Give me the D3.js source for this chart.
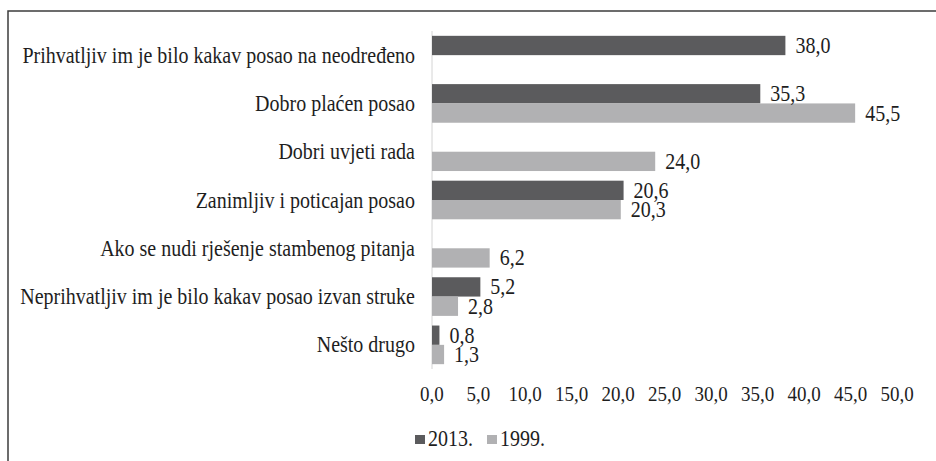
<!DOCTYPE html>
<html>
<head>
<meta charset="utf-8">
<script src="https://cdn.jsdelivr.net/npm/d3@7"></script>
<style>
	body { margin: 0; background: #fff; }
</style>
</head>
<body>
<div id="chart-area"></div>
<script>
const WIDTH = 936
const HEIGHT = 461
const MARGIN = { LEFT: 432, RIGHT: 39, TOP: 31, BOTTOM: 92 }
const FONT = "Liberation Serif"
const STRETCH = 1.15 // glyphs in the reference are taller than they are wide

const categories = [
	"Prihvatljiv im je bilo kakav posao na neodređeno",
	"Dobro plaćen posao",
	"Dobri uvjeti rada",
	"Zanimljiv i poticajan posao",
	"Ako se nudi rješenje stambenog pitanja",
	"Neprihvatljiv im je bilo kakav posao izvan struke",
	"Nešto drugo"
]
const seriesNames = ["2013.", "1999."]
const values2013 = [38.0, 35.3, null, 20.6, null, 5.2, 0.8]
const values1999 = [null, 45.5, 24.0, 20.3, 6.2, 2.8, 1.3]
const xTicks = [0, 5, 10, 15, 20, 25, 30, 35, 40, 45, 50]
const colors = ["#5b5b5d", "#b1b1b3"]

const fmt = v => v.toFixed(1).replace(".", ",")

const svg = d3.select("#chart-area").append("svg")
	.attr("width", WIDTH)
	.attr("height", HEIGHT)

// outer frame (cut off right and bottom in the reference)
svg.append("path")
	.attr("d", `M8,${HEIGHT + 2} L8,11 L${WIDTH + 2},11`)
	.attr("fill", "none")
	.attr("stroke", "#3c3c3c")
	.attr("stroke-width", 1.5)

const x = d3.scaleLinear()
	.domain([0, 50])
	.range([MARGIN.LEFT, WIDTH - MARGIN.RIGHT])

const y = d3.scaleBand()
	.domain(categories)
	.range([MARGIN.TOP, HEIGHT - MARGIN.BOTTOM])
	.paddingInner(0.2)
	.paddingOuter(0.1)

const ySub = d3.scaleBand()
	.domain(seriesNames)
	.range([0, y.bandwidth()])

// tall text helper
function tallText(sel, tx, ty) {
	return sel.attr("x", 0).attr("y", 0)
		.attr("font-family", FONT)
		.attr("fill", "#1e1e1e")
		.attr("transform", `translate(${tx},${ty}) scale(1,${STRETCH})`)
}

// vertical axis line
svg.append("line")
	.attr("x1", x(0)).attr("x2", x(0))
	.attr("y1", MARGIN.TOP).attr("y2", HEIGHT - MARGIN.BOTTOM)
	.attr("stroke", "#d4d4d4")
	.attr("stroke-width", 1)

// category labels
svg.selectAll(".cat-label")
	.data(categories)
	.enter().append("text")
	.attr("class", "cat-label")
	.attr("text-anchor", "end")
	.attr("font-size", "20px")
	.text(d => d)
	.each(function(d) {
		tallText(d3.select(this), 415, y(d) + y.bandwidth() / 2 + 7.5)
	})

// bars
const rows = categories.map((c, i) => ({
	cat: c,
	vals: [
		{ series: seriesNames[0], value: values2013[i] },
		{ series: seriesNames[1], value: values1999[i] }
	].filter(v => v.value != null)
}))

const rowG = svg.selectAll(".row")
	.data(rows)
	.enter().append("g")
	.attr("class", "row")
	.attr("transform", d => `translate(0, ${y(d.cat)})`)

rowG.selectAll("rect")
	.data(d => d.vals)
	.enter().append("rect")
	.attr("x", x(0))
	.attr("y", d => ySub(d.series))
	.attr("width", d => x(d.value) - x(0))
	.attr("height", ySub.bandwidth())
	.attr("fill", d => colors[seriesNames.indexOf(d.series)])

rowG.selectAll(".val-label")
	.data(d => d.vals)
	.enter().append("text")
	.attr("class", "val-label")
	.attr("font-size", "20px")
	.text(d => fmt(d.value))
	.each(function(d) {
		tallText(d3.select(this), x(d.value) + 10, ySub(d.series) + ySub.bandwidth() / 2 + 7.5)
	})

// x tick labels
svg.selectAll(".tick-label")
	.data(xTicks)
	.enter().append("text")
	.attr("class", "tick-label")
	.attr("text-anchor", "middle")
	.attr("font-size", "19px")
	.text(d => fmt(d))
	.each(function(d) {
		tallText(d3.select(this), x(d), 401)
	})

// legend
const legend = svg.append("g")
	.attr("transform", "translate(415, 0)")

const legendItems = legend.selectAll(".legend-item")
	.data(seriesNames)
	.enter().append("g")
	.attr("class", "legend-item")
	.attr("transform", (d, i) => `translate(${i * 72}, 0)`)

legendItems.append("rect")
	.attr("x", 0)
	.attr("y", 435)
	.attr("width", 10)
	.attr("height", 9)
	.attr("fill", (d, i) => colors[i])

legendItems.append("text")
	.attr("font-size", "20px")
	.text(d => d)
	.each(function() {
		tallText(d3.select(this), 13, 446)
	})
</script>
</body>
</html>
